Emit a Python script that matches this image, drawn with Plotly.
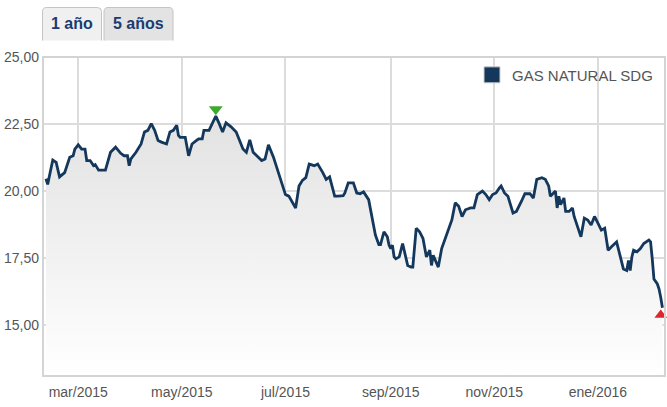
import plotly.graph_objects as go

dates = [
    "2015-02-10", "2015-02-11", "2015-02-14", "2015-02-16", "2015-02-18", "2015-02-21", "2015-02-24",
    "2015-02-26", "2015-02-27", "2015-03-01", "2015-03-03", "2015-03-05", "2015-03-06", "2015-03-08",
    "2015-03-10", "2015-03-11", "2015-03-13", "2015-03-17", "2015-03-20", "2015-03-23", "2015-03-26",
    "2015-03-28", "2015-03-30", "2015-03-31", "2015-04-01", "2015-04-04", "2015-04-07", "2015-04-09",
    "2015-04-11", "2015-04-13", "2015-04-15", "2015-04-17", "2015-04-19", "2015-04-22", "2015-04-24",
    "2015-04-26", "2015-04-28", "2015-04-29", "2015-04-30", "2015-05-03", "2015-05-05", "2015-05-07",
    "2015-05-10", "2015-05-11", "2015-05-13", "2015-05-14", "2015-05-17", "2015-05-19", "2015-05-21",
    "2015-05-23", "2015-05-25", "2015-05-27", "2015-05-30", "2015-06-02", "2015-06-04", "2015-06-06",
    "2015-06-08", "2015-06-10", "2015-06-12", "2015-06-15", "2015-06-17", "2015-06-19", "2015-06-21",
    "2015-06-24", "2015-06-26", "2015-06-28", "2015-06-30", "2015-07-01", "2015-07-03", "2015-07-05",
    "2015-07-07", "2015-07-09", "2015-07-11", "2015-07-13", "2015-07-15", "2015-07-18", "2015-07-20",
    "2015-07-23", "2015-07-25", "2015-07-27", "2015-07-30", "2015-08-01", "2015-08-04", "2015-08-05",
    "2015-08-07", "2015-08-10", "2015-08-12", "2015-08-14", "2015-08-16", "2015-08-19", "2015-08-21",
    "2015-08-23", "2015-08-25", "2015-08-26", "2015-08-28", "2015-08-30", "2015-08-31", "2015-09-01",
    "2015-09-02", "2015-09-03", "2015-09-04", "2015-09-06", "2015-09-08", "2015-09-10", "2015-09-11",
    "2015-09-13", "2015-09-14", "2015-09-16", "2015-09-18", "2015-09-20", "2015-09-21", "2015-09-22",
    "2015-09-24", "2015-09-25", "2015-09-26", "2015-09-27", "2015-09-29", "2015-10-01", "2015-10-03",
    "2015-10-05", "2015-10-07", "2015-10-09", "2015-10-11", "2015-10-13", "2015-10-15", "2015-10-18",
    "2015-10-20", "2015-10-22", "2015-10-25", "2015-10-27", "2015-10-29", "2015-10-31", "2015-11-02",
    "2015-11-04", "2015-11-05", "2015-11-07", "2015-11-09", "2015-11-12", "2015-11-14", "2015-11-17",
    "2015-11-19", "2015-11-22", "2015-11-24", "2015-11-26", "2015-11-29", "2015-12-01", "2015-12-03",
    "2015-12-04", "2015-12-06", "2015-12-07", "2015-12-08", "2015-12-09", "2015-12-10", "2015-12-12",
    "2015-12-13", "2015-12-15", "2015-12-17", "2015-12-18", "2015-12-20", "2015-12-22", "2015-12-24",
    "2015-12-26", "2015-12-28", "2015-12-30", "2016-01-01", "2016-01-03", "2016-01-05", "2016-01-07",
    "2016-01-09", "2016-01-11", "2016-01-12", "2016-01-14", "2016-01-16", "2016-01-18", "2016-01-19",
    "2016-01-20", "2016-01-21", "2016-01-22", "2016-01-24", "2016-01-26", "2016-01-28", "2016-01-31",
    "2016-02-01", "2016-02-02", "2016-02-03", "2016-02-05", "2016-02-06", "2016-02-07", "2016-02-08",
]

prices = [
    20.45, 20.24, 21.15, 21.06, 20.52, 20.68, 21.25,
    21.31, 21.56, 21.72, 21.56, 21.56, 21.13, 21.13,
    20.94, 20.98, 20.77, 20.77, 21.44, 21.63, 21.40,
    21.31, 21.31, 20.94, 21.19, 21.44, 21.75, 22.20,
    22.26, 22.51, 22.26, 21.88, 21.82, 21.75, 22.20,
    22.26, 22.45, 22.07, 22.00, 22.00, 21.31, 21.75,
    21.90, 21.94, 21.94, 22.26, 22.26, 22.51, 22.79,
    22.51, 22.20, 22.54, 22.39, 22.20, 21.88, 21.56,
    21.44, 21.90, 21.44, 21.25, 21.13, 21.19, 21.72,
    21.25, 20.87, 20.49, 20.11, 19.86, 19.80, 19.55,
    19.36, 20.18, 20.39, 20.49, 21.00, 20.94, 21.00,
    20.68, 20.43, 20.52, 19.80, 19.80, 19.82, 19.92,
    20.30, 20.30, 19.92, 19.89, 19.96, 19.67, 18.98,
    18.34, 17.99, 17.99, 18.47, 18.28, 17.97, 17.84,
    17.97, 17.53, 17.46, 17.53, 18.03, 17.53, 17.21,
    17.15, 17.15, 18.60, 18.47, 18.22, 17.84, 17.53,
    17.78, 17.21, 17.59, 17.46, 17.15, 17.84, 18.22,
    18.53, 18.91, 19.55, 19.42, 19.04, 19.29, 19.36,
    19.36, 19.86, 19.99, 19.86, 19.67, 19.86, 19.92,
    20.11, 20.18, 19.92, 19.80, 19.17, 19.23, 19.61,
    19.89, 19.89, 19.73, 20.43, 20.49, 20.43, 20.18,
    19.80, 19.92, 19.99, 19.36, 19.80, 19.48, 19.73,
    19.23, 19.23, 19.36, 19.04, 18.66, 18.28, 18.98,
    18.91, 18.72, 19.04, 18.79, 18.53, 18.60, 17.78,
    17.91, 18.03, 18.09, 17.59, 17.08, 17.02, 17.40,
    17.02, 17.53, 17.78, 17.72, 17.84, 18.03, 18.16,
    18.09, 17.46, 16.70, 16.52, 16.33, 16.01, 15.63,
]

series_name = "GAS NATURAL SDG"
max_marker = ("2015-05-21", 23.05)
min_marker = ("2016-02-07", 15.36)

x_tick_vals = ["2015-03-01", "2015-05-01", "2015-07-01", "2015-09-01", "2015-11-01", "2016-01-01"]
x_tick_text = ["mar/2015", "may/2015", "jul/2015", "sep/2015", "nov/2015", "ene/2016"]
y_tick_vals = [15, 17.5, 20, 22.5, 25]

tabs = ["1 año", "5 años"]

NAVY = "#14375c"
FONT = "Liberation Sans, Arial, sans-serif"

fig = go.Figure()

fig.add_trace(go.Scatter(
    x=dates, y=prices, mode="lines",
    line=dict(color=NAVY, width=2.8),
    fill="tozeroy",
    fillgradient=dict(type="vertical",
                      colorscale=[[0, "rgba(255,255,255,1)"], [1, "rgba(226,226,226,1)"]],
                      start=13.1, stop=22.8),
    showlegend=False, hoverinfo="x+y",
))

fig.add_trace(go.Scatter(
    x=[max_marker[0]], y=[max_marker[1]], mode="markers",
    marker=dict(symbol="triangle-down", size=12, color="#3daa2e"),
    showlegend=False, cliponaxis=False,
))
fig.add_trace(go.Scatter(
    x=[min_marker[0]], y=[min_marker[1]], mode="markers",
    marker=dict(symbol="triangle-up", size=11, color="#e0262d"),
    showlegend=False, cliponaxis=False,
))

fig.add_trace(go.Scatter(
    x=[None], y=[None], mode="markers", name=series_name,
    marker=dict(symbol="square", size=17, color=NAVY, line=dict(color="#cfcfcf", width=1)),
))

# tabs
shapes = []
annotations = []
tab_x = [(42.5, 101.5), (104, 173)]
tab_fill = ["#f0f0f0", "#e3e3e3"]
W, H = 667, 407
L, R, T, B = 43, 665, 57, 376
def px(xp):
    return (xp - L) / (R - L)
def py(yp):
    return (B - yp) / (B - T)
rad = 4
for (x0, x1), label, fc in zip(tab_x, tabs, tab_fill):
    y0, y1 = 40.5, 7.5
    path = ("M %f,%f L %f,%f Q %f,%f %f,%f L %f,%f Q %f,%f %f,%f L %f,%f" % (
        px(x0), py(y0),
        px(x0), py(y1 + rad),
        px(x0), py(y1), px(x0 + rad), py(y1),
        px(x1 - rad), py(y1),
        px(x1), py(y1), px(x1), py(y1 + rad),
        px(x1), py(y0)))
    shapes.append(dict(type="path", xref="paper", yref="paper", path=path,
                       fillcolor=fc, line=dict(color="#c4c4c4", width=1), layer="above"))
    annotations.append(dict(xref="paper", yref="paper", x=px((x0 + x1) / 2), y=py(23.5),
                            text="<b>%s</b>" % label, showarrow=False,
                            font=dict(family=FONT, size=16, color="#1b3b70"),
                            xanchor="center", yanchor="middle"))

# plot frame
shapes.append(dict(type="rect", xref="paper", yref="paper", x0=0, x1=1, y0=0, y1=1,
                   line=dict(color="#d4d4d4", width=2), layer="above"))

fig.update_layout(
    width=W, height=H,
    margin=dict(l=L, r=W - R, t=T, b=H - B),
    paper_bgcolor="white", plot_bgcolor="white",
    separators=",.",
    font=dict(family=FONT, size=14, color="#555555"),
    shapes=shapes, annotations=annotations,
    legend=dict(x=px(658), y=0.995, xanchor="right", yanchor="top",
                bgcolor="rgba(255,255,255,0)", borderwidth=0,
                font=dict(family=FONT, size=15, color="#555555"),
                itemsizing="trace"),
    xaxis=dict(range=["2015-02-08 06:00", "2016-02-09 12:00"], type="date",
               tickvals=x_tick_vals, ticktext=x_tick_text,
               showgrid=True, gridcolor="#dcdcdc", gridwidth=1.5,
               zeroline=False, showline=False, ticks="", ticklabelstandoff=6,
               tickfont=dict(family=FONT, size=14, color="#555555")),
    yaxis=dict(range=[13.08, 25.0], tickvals=y_tick_vals, tickformat=".2f",
               showgrid=True, gridcolor="#dcdcdc", gridwidth=1.5,
               zeroline=False, showline=False, ticks="", ticklabelstandoff=3,
               tickfont=dict(family=FONT, size=14, color="#555555")),
    hovermode="closest",
)

fig.write_html("out.html", config={"displayModeBar": False},
               post_script="document.body.style.margin='0px';document.body.style.overflow='hidden';")
